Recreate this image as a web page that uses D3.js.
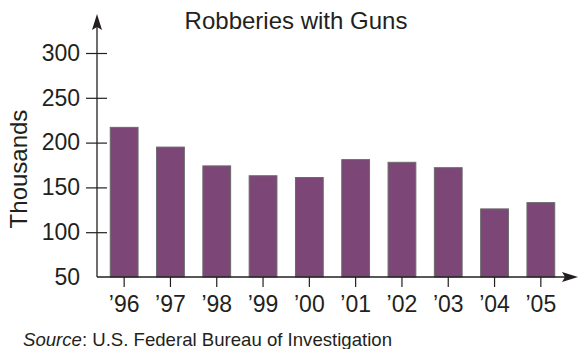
<!DOCTYPE html>
<html lang="en">
<head>
<meta charset="utf-8">
<title>Robberies with Guns</title>
<script src="https://d3js.org/d3.v7.min.js"></script>
<style>
  body { margin: 0; background: #fff; }
  svg { display: block; }
  text { font-family: "Liberation Sans", Arial, Helvetica, sans-serif; fill: #231f20; }
</style>
</head>
<body>
<svg width="579" height="349"></svg>
<script>
// data (thousands)
var years = ["\u201996", "\u201997", "\u201998", "\u201999", "\u201900",
             "\u201901", "\u201902", "\u201903", "\u201904", "\u201905"];
var robberies = [217, 195, 174, 163, 161, 181, 178, 172, 126, 133];
var yTicks = [50, 100, 150, 200, 250, 300];

var svg = d3.select("svg");

var x = d3.scaleBand()
    .domain(years)
    .range([101, 564])
    .paddingInner(0.4)
    .paddingOuter(0.2);

var y = d3.scaleLinear()
    .domain([50, 300])
    .range([277, 53]);

var data = years.map(function(d, i) { return {year: d, value: robberies[i]}; });

// bars
svg.append("g").selectAll("rect")
    .data(data)
    .enter().append("rect")
      .attr("x", function(d) { return x(d.year); })
      .attr("y", function(d) { return y(d.value); })
      .attr("width", x.bandwidth())
      .attr("height", function(d) { return y(50) - y(d.value); })
      .attr("fill", "#7c4677")
      .attr("stroke", "#6a6a6a")
      .attr("stroke-width", 1);

// y axis
var yAxis = svg.append("g")
    .attr("transform", "translate(97,0)")
    .call(d3.axisLeft(y).tickValues(yTicks).tickSize(0).tickPadding(17));
yAxis.select(".domain").remove();
yAxis.selectAll(".tick text")
    .style("font-size", "23px")
    .attr("fill", "#231f20");
yAxis.selectAll(".tick line")
    .attr("x1", -11).attr("x2", 10)
    .attr("stroke", "#231f20")
    .attr("stroke-width", 1.2)
    .filter(function(d) { return d === 50; }).remove();

// x axis
var xAxis = svg.append("g")
    .attr("transform", "translate(0," + y(50) + ")")
    .call(d3.axisBottom(x).tickSize(10).tickPadding(0));
xAxis.select(".domain").remove();
xAxis.selectAll(".tick line").attr("stroke", "#231f20").attr("stroke-width", 1.2);
xAxis.selectAll(".tick text")
    .attr("y", 35).attr("dy", 0)
    .style("font-size", "23px")
    .attr("fill", "#231f20");

// axis lines with arrows
svg.append("line")
    .attr("x1", 97).attr("y1", y(50)).attr("x2", 97).attr("y2", 20)
    .attr("stroke", "#231f20").attr("stroke-width", 1.3);
svg.append("path")
    .attr("d", "M97,14 L102,30 L97,27 L92,30 Z")
    .attr("fill", "#231f20");
svg.append("line")
    .attr("x1", 97).attr("y1", y(50)).attr("x2", 572).attr("y2", y(50))
    .attr("stroke", "#231f20").attr("stroke-width", 1.3);
svg.append("path")
    .attr("d", "M578,277 L562,282 L565,277 L562,272 Z")
    .attr("fill", "#231f20");

// title
svg.append("text")
    .attr("x", 296).attr("y", 29)
    .attr("text-anchor", "middle")
    .style("font-size", "24px")
    .text("Robberies with Guns");

// y label
svg.append("text")
    .attr("transform", "translate(27,169) rotate(-90)")
    .attr("text-anchor", "middle")
    .style("font-size", "24px")
    .text("Thousands");

// source
var src = svg.append("text")
    .attr("x", 23).attr("y", 346)
    .style("font-size", "18.6px");
src.append("tspan").style("font-style", "italic").text("Source");
src.append("tspan").text(": U.S. Federal Bureau of Investigation");
</script>
</body>
</html>
